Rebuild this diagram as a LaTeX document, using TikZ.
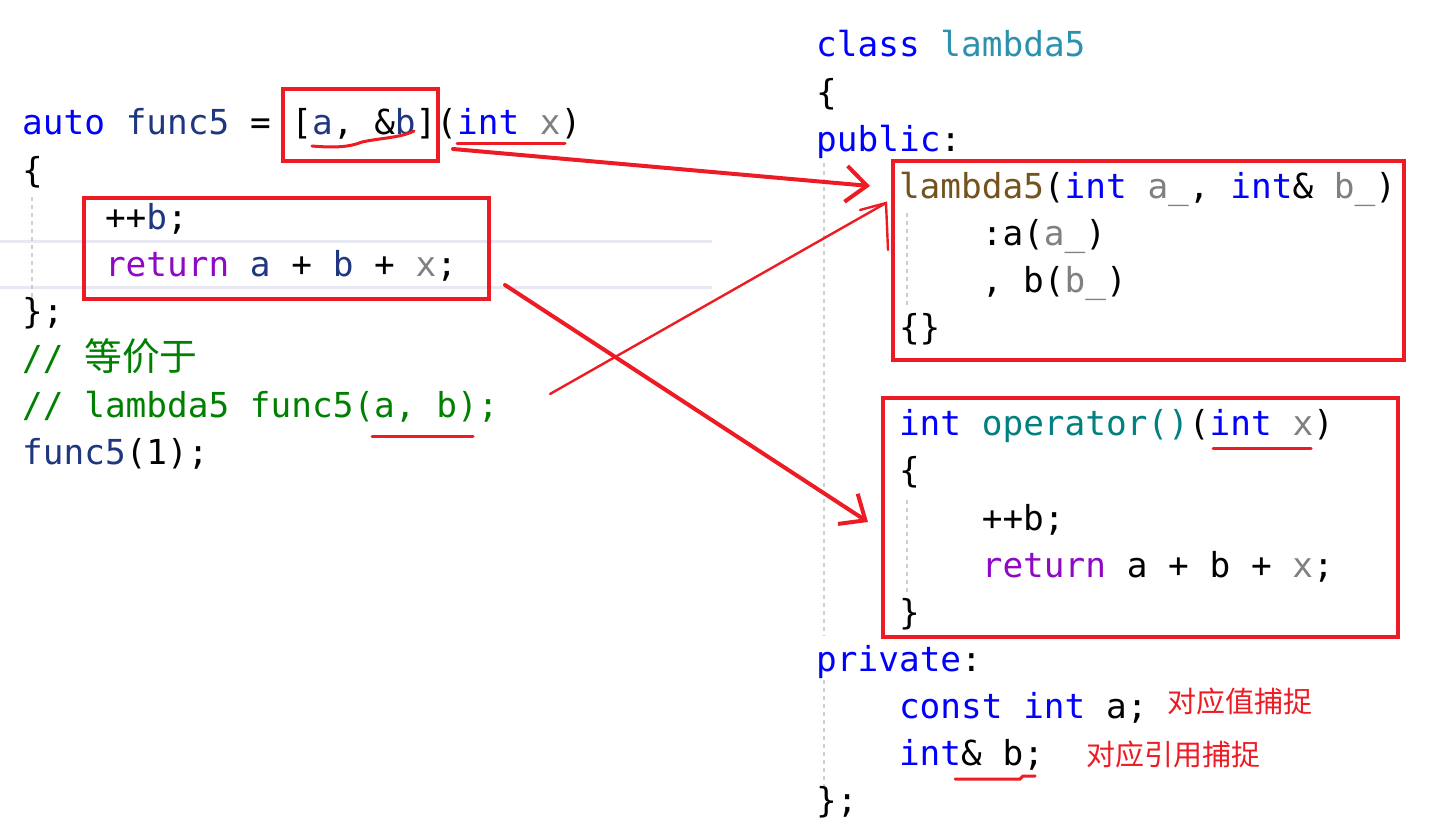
\documentclass[tikz,border=0pt]{standalone}
\usepackage{fontspec}
\usepackage{tikz}
\usetikzlibrary{arrows.meta}
\newfontfamily\codefont{DejaVu Sans Mono}
\newfontfamily\cjk{Noto Sans CJK SC}
\definecolor{kwblue}{RGB}{0,0,255}
\definecolor{varnavy}{RGB}{31,55,127}
\definecolor{pargray}{RGB}{128,128,128}
\definecolor{retpurple}{RGB}{143,8,196}
\definecolor{clsteal}{RGB}{43,145,175}
\definecolor{fnbrown}{RGB}{116,83,31}
\definecolor{opteal}{RGB}{0,128,128}
\definecolor{cmtgreen}{RGB}{0,128,0}
\definecolor{markred}{RGB}{237,28,36}
\definecolor{guidegray}{RGB}{205,205,205}
\definecolor{hilite}{RGB}{232,232,242}
\newcommand\kw[1]{\textcolor{kwblue}{#1}}
\newcommand\va[1]{\textcolor{varnavy}{#1}}
\newcommand\pa[1]{\textcolor{pargray}{#1}}
\tikzset{
  codeline/.style={anchor=base west, inner sep=0pt, font=\codefont\fontsize{34.4}{47}\selectfont},
  notelabel/.style={anchor=base west, inner sep=0pt, text=markred, font=\cjk\fontsize{29}{34}\selectfont},
  redbox/.style={draw=markred, line width=4pt, inner sep=0pt},
  fatarrow/.style={draw=markred, line width=4pt, line cap=round, -{Straight Barb[length=21pt,width=36pt]}},
  thinmark/.style={draw=markred, line width=2.4pt, line cap=round},
  uline/.style={draw=markred, line width=3pt, line cap=round},
  guide/.style={draw=guidegray, line width=1.5pt, dash pattern=on 4pt off 4pt},
  hiline/.style={draw=hilite, line width=3pt}
}
\begin{document}
\begin{tikzpicture}[x=1pt, y=-1pt]
  \useasboundingbox (0,0) rectangle (1456,840);
  % editor background lines
  \draw[hiline] (0,241) -- (712,241);
  \draw[hiline] (0,287) -- (712,287);
  \draw[guide] (32,197) -- (32,300);
  \draw[guide] (824,163) -- (824,636);
  \draw[guide] (824,680) -- (824,792);
  \draw[guide] (907,213) -- (907,305);
  \draw[guide] (907,500) -- (907,592);

  % lambda side
  \node[codeline] (fn1) at (22,135) {\kw{auto} \va{func5} = [\va{a}, \&\va{b}](\kw{int} \pa{x})};
  \node[codeline] (fn2) at (22,182) {\{};
  \node[codeline] (fn3) at (104.8,229) {++\va{b};};
  \node[codeline] (fn4) at (104.8,276) {\textcolor{retpurple}{return} \va{a} + \va{b} + \pa{x};};
  \node[codeline] (fn5) at (22,323) {\};};
  \node[codeline, text=cmtgreen] (fn6) at (22,370) {// {\cjk\fontsize{37.8}{47}\selectfont 等价于}};
  \node[codeline, text=cmtgreen] (fn7) at (22,417) {// lambda5 func5(a, b);};
  \node[codeline] (fn8) at (22,464) {\va{func5}(1);};

  % class side
  \node[codeline] (cl0) at (816,57) {\kw{class} \textcolor{clsteal}{lambda5}};
  \node[codeline] (cl1) at (816,104.1) {\{};
  \node[codeline] (cl2) at (816,151.2) {\kw{public}:};
  \node[codeline] (cl3) at (898.8,198.3) {\textcolor{fnbrown}{lambda5}(\kw{int} \pa{a\_}, \kw{int}\& \pa{b\_})};
  \node[codeline] (cl4) at (981.6,245.4) {:a(\pa{a\_})};
  \node[codeline] (cl5) at (981.6,292.5) {, b(\pa{b\_})};
  \node[codeline] (cl6) at (898.8,339.6) {\{\}};
  \node[codeline] (cl8) at (898.8,435.8) {\kw{int} \textcolor{opteal}{operator()}(\kw{int} \pa{x})};
  \node[codeline] (cl9) at (898.8,482.9) {\{};
  \node[codeline] (cl10) at (981.6,530) {++b;};
  \node[codeline] (cl11) at (981.6,577.1) {\textcolor{retpurple}{return} a + b + \pa{x};};
  \node[codeline] (cl12) at (898.8,624.2) {\}};
  \node[codeline] (cl13) at (816,671.3) {\kw{private}:};
  \node[codeline] (cl14) at (898.8,718.4) {\kw{const int} a;};
  \node[codeline] (cl15) at (898.8,765.5) {\kw{int}\& b;};
  \node[codeline] (cl16) at (816,812.6) {\};};

  \node[notelabel] (valnote) at (1167,712) {对应值捕捉};
  \node[notelabel] (refnote) at (1086,765) {对应引用捕捉};

  % red marks
  \node[redbox, minimum width=155pt, minimum height=72pt] (capbox) at (360.5,125) {};
  \node[redbox, minimum width=405pt, minimum height=101pt] (bodybox) at (286.5,248.5) {};
  \node[redbox, minimum width=511pt, minimum height=199pt] (ctorbox) at (1148.5,260.5) {};
  \node[redbox, minimum width=515pt, minimum height=239pt] (opbox) at (1140.5,517.5) {};

  \draw[uline] (312,146) .. controls (335,148) and (350,147) .. (362,142) .. controls (380,138) and (400,138) .. (414,131);
  \draw[uline] (457,144) -- (565,144);
  \draw[uline] (372,436) -- (473,436);
  \draw[uline] (1213,448) -- (1311,448);
  \draw[uline] (955,779) -- (1020,779) -- (1023,776) -- (1035,776);

  \coordinate (capout) at (453,149);
  \coordinate (ctorin) at (870,186);
  \coordinate (bodyout) at (505,285);
  \coordinate (opin) at (868,522);
  \coordinate (callout) at (550,394);
  \coordinate (ctorhook) at (886,203);

  \draw[fatarrow] (capout) -- (ctorin);
  \draw[fatarrow] (bodyout) -- (opin);
  \draw[thinmark] (callout) -- (ctorhook);
  \draw[thinmark] (860,210) -- (ctorhook) -- (888,250);
\end{tikzpicture}
\end{document}
